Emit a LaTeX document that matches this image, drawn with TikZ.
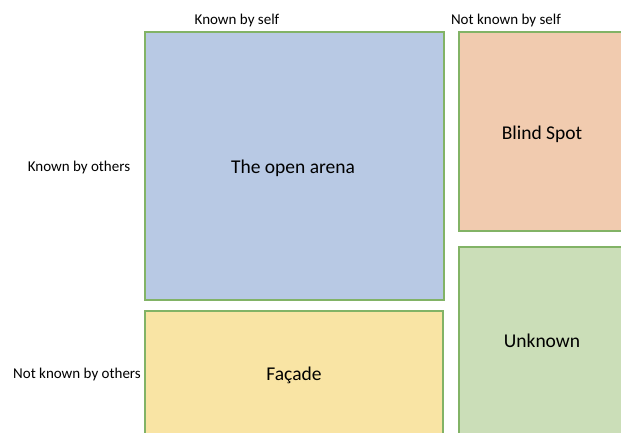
\documentclass[tikz,border=0pt]{standalone}
\usepackage{fontspec}
\setmainfont{Carlito}
\definecolor{edge}{RGB}{130,179,102}
\definecolor{fblue}{RGB}{184,201,228}
\definecolor{forange}{RGB}{241,203,175}
\definecolor{fgreen}{RGB}{203,222,184}
\definecolor{fyellow}{RGB}{249,228,164}
\tikzset{
  quad/.style={draw=edge, line width=1.2pt},
  axis/.style={font=\fontsize{15}{17}\selectfont, inner sep=0pt, anchor=base},
  big/.style={font=\fontsize{19.5}{22}\selectfont, inner sep=0pt, anchor=base}
}
\begin{document}
\begin{tikzpicture}[x=1pt,y=-1pt]
\useasboundingbox (0,0) rectangle (621,432);
\clip (0,0) rectangle (621,432);
\fill[white] (0,0) rectangle (621,432);
\draw[quad, fill=fblue] (145,32) rectangle (444,300);
\draw[quad, fill=forange] (459,32) rectangle (640,231);
\draw[quad, fill=fgreen] (459,247) rectangle (640,450);
\draw[quad, fill=fyellow] (145,311) rectangle (443,450);
\node[axis] (ks) at (237,24) {Known by self};
\node[axis] (nks) at (506,24) {Not known by self};
\node[axis] (ko) at (79,171) {Known by others};
\node[axis] (nko) at (77,378) {Not known by others};
\node[big] (open) at (293,173) {The open arena};
\node[big] (blind) at (542,139) {Blind Spot};
\node[big] (unk) at (542,347) {Unknown};
\node[big] (fac) at (294,380) {Façade};
\end{tikzpicture}
\end{document}
